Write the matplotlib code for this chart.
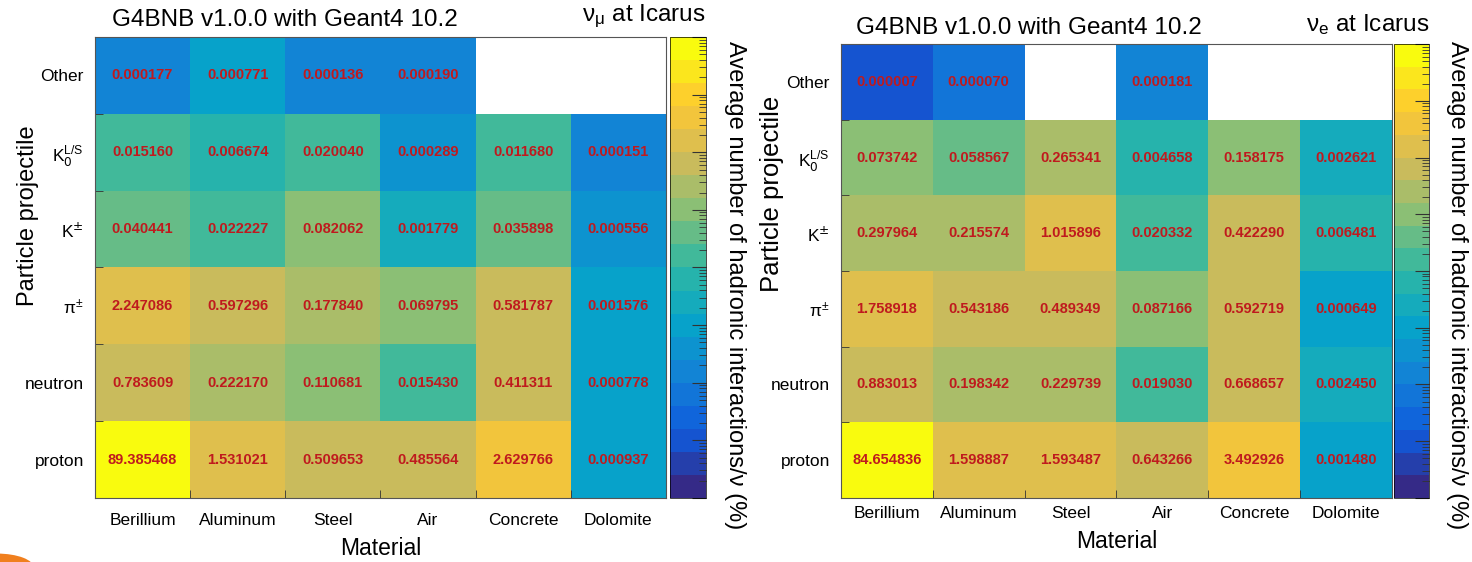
import numpy as np
import matplotlib
matplotlib.use("Agg")
import matplotlib.pyplot as plt
from matplotlib.colors import LinearSegmentedColormap, LogNorm
from matplotlib.patches import Circle

plt.rcParams['font.family'] = ['Liberation Sans', 'DejaVu Sans']

# data (rows listed top to bottom as in the picture)
materials = ['Berillium', 'Aluminum', 'Steel', 'Air', 'Concrete', 'Dolomite']
particles = ['Other', r'K$_0^{\mathregular{L/S}}$', r'K$^{\pm}$', r'$\mathregular{\pi^{\pm}}$', 'neutron', 'proton']

numu_other = [0.000177, 0.000771, 0.000136, 0.000190, np.nan, np.nan]
numu_k0 = [0.015160, 0.006674, 0.020040, 0.000289, 0.011680, 0.000151]
numu_kpm = [0.040441, 0.022227, 0.082062, 0.001779, 0.035898, 0.000556]
numu_pi = [2.247086, 0.597296, 0.177840, 0.069795, 0.581787, 0.001576]
numu_neutron = [0.783609, 0.222170, 0.110681, 0.015430, 0.411311, 0.000778]
numu_proton = [89.385468, 1.531021, 0.509653, 0.485564, 2.629766, 0.000937]

nue_other = [0.000007, 0.000070, np.nan, 0.000181, np.nan, np.nan]
nue_k0 = [0.073742, 0.058567, 0.265341, 0.004658, 0.158175, 0.002621]
nue_kpm = [0.297964, 0.215574, 1.015896, 0.020332, 0.422290, 0.006481]
nue_pi = [1.758918, 0.543186, 0.489349, 0.087166, 0.592719, 0.000649]
nue_neutron = [0.883013, 0.198342, 0.229739, 0.019030, 0.668657, 0.002450]
nue_proton = [84.654836, 1.598887, 1.593487, 0.643266, 3.492926, 0.001480]

title = 'G4BNB v1.0.0 with Geant4 10.2'
zlabel = 'Average number of hadronic interactions/\u03bd (%)'

# ROOT kBird palette, 20 contour levels
bird = [(0.2082, 0.1664, 0.5293), (0.0592, 0.3599, 0.8684), (0.0780, 0.5041, 0.8385),
        (0.0232, 0.6419, 0.7914), (0.1802, 0.7178, 0.6425), (0.5301, 0.7492, 0.4662),
        (0.8186, 0.7328, 0.3499), (0.9956, 0.7862, 0.1968), (0.9764, 0.9832, 0.0539)]
cmap = LinearSegmentedColormap.from_list('bird', bird, N=20)
cmap.set_bad('white')
norm = LogNorm(vmin=1e-6, vmax=100)

fig = plt.figure(figsize=(14.72, 5.62), dpi=100)


def panel(rect, cbrect, data, nu, ylab_xy, ylab_size, zlab_x, xpad, xlabpad, tpad):
    z = np.ma.masked_invalid(np.array(data))
    ax = fig.add_axes(rect)
    mesh = ax.pcolormesh(np.arange(7), np.arange(7), z, cmap=cmap, norm=norm)
    ax.set_xlim(0, 6)
    ax.set_ylim(6, 0)
    ax.set_xticks(np.arange(6) + 0.5)
    ax.set_xticklabels(materials, fontsize=12.5)
    ax.set_yticks(np.arange(6) + 0.5)
    ax.set_yticklabels(particles, fontsize=12.5)
    ax.set_xticks(np.arange(1, 6), minor=True)
    ax.set_yticks(np.arange(1, 6), minor=True)
    ax.tick_params(which='major', length=0)
    ax.tick_params(axis='x', which='major', pad=xpad)
    ax.tick_params(axis='y', which='major', pad=8)
    ax.tick_params(which='minor', direction='in', length=6, color='#333333')
    for sp in ax.spines.values():
        sp.set_color('#555555')
        sp.set_linewidth(0.8)
    for i in range(6):
        for j in range(6):
            v = data[i][j]
            if not np.isnan(v):
                ax.text(j + 0.5, i + 0.5, '%.6f' % v, ha='center', va='center',
                        color='#bf1a1e', fontsize=10.5, fontweight='bold')
    ax.set_xlabel('Material', fontsize=16.5, labelpad=xlabpad)
    fig.text(ylab_xy[0], ylab_xy[1], 'Particle projectile', rotation=90,
             ha='center', va='center', fontsize=ylab_size)
    ax.text(tpad, 1.0 + 0.012, title, transform=ax.transAxes, fontsize=17.5,
            ha='left', va='bottom')
    fig.text(cbrect[0] + cbrect[2], rect[1] + rect[3] + 0.012,
             r'$\mathregular{\nu_{' + nu + r'}}$ at Icarus',
             fontsize=17.5, ha='right', va='bottom')
    cax = fig.add_axes(cbrect)
    cb = fig.colorbar(mesh, cax=cax)
    cb.outline.set_linewidth(0.5)
    cax.tick_params(which='both', direction='in', right=True, labelright=False,
                    color='#333333')
    cax.tick_params(which='major', length=10)
    cax.tick_params(which='minor', length=5)
    fig.text(zlab_x, 0.493, zlabel, rotation=-90, ha='center', va='center',
             fontsize=17)


panel([0.0645, 0.1139, 0.3879, 0.8203], [0.4552, 0.1139, 0.0245, 0.8203],
      [numu_other, numu_k0, numu_kpm, numu_pi, numu_neutron, numu_proton],
      r'\mu', (0.019, 0.617), 17, 0.499, 11, 6, 0.03)
panel([0.5713, 0.1139, 0.3743, 0.8078], [0.9470, 0.1139, 0.0238, 0.8078],
      [nue_other, nue_k0, nue_kpm, nue_pi, nue_neutron, nue_proton],
      'e', (0.5245, 0.655), 18.5, 0.99, 6, 6, 0.027)

fig.patches.append(Circle((-0.002, -0.01), 0.025, transform=fig.transFigure,
                          facecolor='#f07f1e', edgecolor='none'))

fig.savefig('out.png', dpi=100)
